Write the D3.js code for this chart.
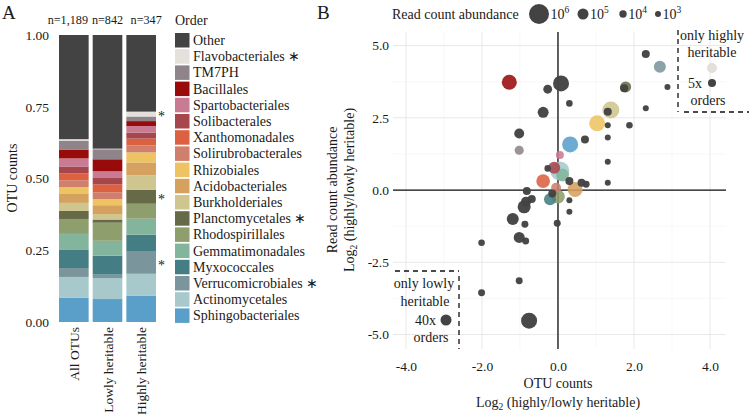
<!DOCTYPE html>
<html><head><meta charset="utf-8">
<script src="https://cdn.jsdelivr.net/npm/d3@7"></script>
<style>
body{margin:0;background:#fff}
svg{display:block}
text{font-family:"Liberation Serif","Times New Roman",serif;fill:#1a1a1a}
</style>
</head><body><svg id="c" width="749" height="420"></svg>
<script>
// ---------- Panel A data ----------
const groups = ["All OTUs", "Lowly heritable", "Highly heritable"];
const groupN = ["n=1,189", "n=842", "n=347"];
const orders = ["Other","Flavobacteriales","TM7PH","Bacillales","Spartobacteriales","Solibacterales",
  "Xanthomonadales","Solirubrobacterales","Rhizobiales","Acidobacteriales","Burkholderiales",
  "Planctomycetales","Rhodospirillales","Gemmatimonadales","Myxococcales","Verrucomicrobiales",
  "Actinomycetales","Sphingobacteriales"];
const orderColors = ["#434343","#e4e0db","#8e8489","#990b0b","#c97b93","#a6464d",
  "#dc6141","#d07f6c","#eec462","#d5a15f","#cfc58e",
  "#666a47","#8e9e6d","#83b59c","#447e84","#7b959d",
  "#a7c9cc","#5a9fca"];
const starred = ["Flavobacteriales","Planctomycetales","Verrucomicrobiales"];
const allOTUs  = [0.363,0.005,0.031,0.031,0.028,0.024,0.024,0.024,0.024,0.031,0.028,0.028,0.052,0.056,0.063,0.031,0.073,0.084];
const lowlyHer = [0.396,0.002,0.035,0.042,0.021,0.024,0.028,0.024,0.021,0.031,0.019,0.011,0.063,0.052,0.066,0.012,0.073,0.080];
const highlyHer= [0.267,0.017,0.016,0.017,0.023,0.021,0.024,0.024,0.035,0.045,0.050,0.049,0.052,0.056,0.059,0.077,0.077,0.091];
const yTicksA = [0, 0.25, 0.5, 0.75, 1];
const yTickLabelsA = ["0.00","0.25","0.50","0.75","1.00"];

// ---------- Panel B data ----------
const pointOrder = ["Bacillales","Other","Other","Other","Other","Other","TM7PH","Sphingobacteriales",
  "Spartobacteriales","Other","Solibacterales","Actinomycetales","Gemmatimonadales","Other","Xanthomonadales",
  "Acidobacteriales","Solirubrobacterales","Other","Myxococcales","Rhodospirillales","Other","Other",
  "Other","Other","Other","Other","Other","Other","Other","Other","Other","Other",
  "Other","Verrucomicrobiales","Planctomycetales","Other","Other","Burkholderiales","Other","Other",
  "Rhizobiales","Other","Other","Other","Other","Other","Other","Other","Other",
  "Other","Other","Other"];
const pointX = [-1.28,0.08,-0.27,0.30,-0.39,-1.02,-1.02,0.32,
  0.05,-0.27,-0.10,0.05,0.12,0.30,-0.39,
  0.45,-0.05,-0.15,-0.21,0.0,0.30,0.30,
  -0.82,-0.84,-0.69,-0.89,-1.19,-0.87,-0.02,-1.02,-0.85,-2.01,
  2.31,2.68,1.78,1.74,2.88,1.39,1.31,2.31,
  1.03,1.31,1.88,0.71,1.31,1.31,0.62,0.74,1.31,
  -1.02,-2.01,-0.76];
const pointY = [3.73,3.69,3.49,3.00,2.69,1.96,1.38,1.58,
  1.21,0.75,0.77,0.66,0.52,0.31,0.31,
  0.02,0.08,-0.12,-0.32,-0.23,-0.35,-0.75,
  -0.03,-0.40,-0.31,-0.58,-1.00,-1.18,-1.15,-1.64,-1.76,-1.82,
  4.71,4.27,3.57,3.52,3.57,2.77,2.71,2.83,
  2.31,2.24,2.24,1.75,1.82,0.98,0.25,0.20,0.25,
  -3.14,-3.55,-4.52];
const pointReads = [2.8e5,3.6e5,2.5e4,2.5e3,1e5,5e4,3e4,3.6e5,
  1.5e4,2.5e3,1.3e5,7.8e5,1.6e5,1.5e4,2e5,
  2.8e5,5e4,1.5e4,1.3e5,2e5,1e3,1e3,
  1.5e4,5e4,1.5e4,1.7e5,1.3e5,5e3,5e3,1e5,5e3,2.5e3,
  1.5e4,1.3e5,1e5,1.5e4,1e3,4.7e5,1.5e4,1e3,
  3.6e5,1e3,2.5e3,1.5e4,1e3,1e3,1.5e4,5e3,1e3,
  5e3,5e3,3.6e5];
const sizeBreaks = [1e6, 1e5, 1e4, 1e3];
const sizeBreakExp = ["6","5","4","3"];
const xTicksB = [-4, -2, 0, 2, 4];
const yTicksB = [-5, -2.5, 0, 2.5, 5];

const svg = d3.select("#c");
svg.append("rect").attr("width",749).attr("height",420).attr("fill","#fff");
const color = d3.scaleOrdinal().domain(orders).range(orderColors);
const fmt = (f) => (v) => d3.format(f)(v).replace("\u2212","-");

// ================= Panel A =================
svg.append("text").attr("x",2).attr("y",19).attr("font-size",19).text("A");
const xA = d3.scaleBand().domain(groups).range([57,158]).paddingInner(0.12).paddingOuter(0.06);
const yA = d3.scaleLinear().domain([0,1]).range([322,35]);
const rows = groups.map((g,i)=>{
  const vals=[allOTUs,lowlyHer,highlyHer][i];
  const r={group:g}; orders.forEach((o,j)=>r[o]=vals[j]); return r;
});
const stack = d3.stack().keys(orders.slice().reverse())(rows);
const gA = svg.append("g");
stack.forEach(layer=>{
  gA.selectAll(null).data(layer).enter().append("rect")
    .attr("x",d=>xA(d.data.group)).attr("width",xA.bandwidth())
    .attr("y",d=>yA(d[1])).attr("height",d=>Math.max(0,yA(d[0])-yA(d[1])))
    .attr("fill",color(layer.key));
});
// asterisks beside highly heritable bar
stack.filter(l=>starred.includes(l.key)).forEach(layer=>{
  const d=layer[2];
  gA.append("text").attr("x",xA(groups[2])+xA.bandwidth()+2)
    .attr("y",yA((d[0]+d[1])/2)+7).attr("font-size",14).text("*");
});
// y axis A
const axA = d3.axisLeft(yA).tickValues(yTicksA).tickFormat((d,i)=>yTickLabelsA[i]).tickSize(0).tickPadding(8);
const gAx = svg.append("g").attr("transform","translate(57,0)").call(axA);
gAx.select(".domain").remove();
gAx.selectAll("text").attr("font-size",13.5).attr("font-family","Liberation Serif").attr("fill","#1a1a1a");
// x labels rotated
groups.forEach(g=>{
  svg.append("text").attr("transform",`translate(${xA(g)+xA.bandwidth()/2+5},327) rotate(-90)`)
    .attr("text-anchor","end").attr("font-size",13.5).text(g);
});
// n labels
const nOffset = [-6, 0, 5];
groups.forEach((g,i)=>{
  svg.append("text").attr("x",xA(g)+xA.bandwidth()/2 + nOffset[i]).attr("y",24)
    .attr("text-anchor","middle").attr("font-size",12.2).text(groupN[i]);
});
svg.append("text").attr("transform","translate(17,178) rotate(-90)").attr("text-anchor","middle")
  .attr("font-size",14).text("OTU counts");
// legend A
svg.append("text").attr("x",175).attr("y",25).attr("font-size",14).text("Order");
const leg = svg.append("g");
orders.forEach((o,i)=>{
  const y0 = 33 + i*16.2;
  leg.append("rect").attr("x",175).attr("y",y0).attr("width",14.5).attr("height",14.5).attr("fill",color(o));
  leg.append("text").attr("x",193).attr("y",y0+12).attr("font-size",14)
    .text(o + (starred.includes(o)?" \u2217":""));
});

// ================= Panel B =================
svg.append("text").attr("x",317).attr("y",19).attr("font-size",19).text("B");
const xB = d3.scaleLinear().domain([-4.34,4.42]).range([393,726]);
const yB = d3.scaleLinear().domain([-5.5,5.47]).range([349,32]);
const rScale = d3.scaleLinear().domain([3,4,5,6]).range([3,3.7,5.5,10]);
const rOf = v => rScale(Math.log10(v));
const gB = svg.append("g");
// grid
d3.range(-4,5,1).forEach(v=>{
  gB.append("line").attr("x1",xB(v)).attr("x2",xB(v)).attr("y1",yB.range()[1]).attr("y2",yB.range()[0])
    .attr("stroke", v%2===0?"#e8e8e8":"#f3f3f3").attr("stroke-width", v%2===0?1:0.7);
});
d3.range(-5,5.01,1.25).forEach(v=>{
  const major = Math.abs(v/2.5 - Math.round(v/2.5))<1e-6;
  gB.append("line").attr("y1",yB(v)).attr("y2",yB(v)).attr("x1",xB.range()[0]).attr("x2",xB.range()[1])
    .attr("stroke", major?"#e8e8e8":"#f3f3f3").attr("stroke-width", major?1:0.7);
});
// zero lines
gB.append("line").attr("x1",xB(0)).attr("x2",xB(0)).attr("y1",yB.range()[1]).attr("y2",yB.range()[0])
  .attr("stroke","#111").attr("stroke-width",1.3);
gB.append("line").attr("y1",yB(0)).attr("y2",yB(0)).attr("x1",xB.range()[0]).attr("x2",xB.range()[1])
  .attr("stroke","#111").attr("stroke-width",1.3);
// points
const pts = pointX.map((x,i)=>({x, y:pointY[i], o:pointOrder[i], r:pointReads[i]}))
  .sort((a,b)=>b.r-a.r);
gB.selectAll("circle.p").data(pts).enter().append("circle")
  .attr("cx",d=>xB(d.x)).attr("cy",d=>yB(d.y)).attr("r",d=>rOf(d.r))
  .attr("fill",d=>color(d.o)).attr("fill-opacity",d=>d.o==="Other"?0.97:0.88);
// axes B
const axBx = d3.axisBottom(xB).tickValues(xTicksB).tickFormat(fmt(".1f")).tickSize(0).tickPadding(8);
const gBx = svg.append("g").attr("transform","translate(0,353)").call(axBx);
gBx.select(".domain").remove();
gBx.selectAll("text").attr("font-size",13.5).attr("font-family","Liberation Serif").attr("fill","#1a1a1a");
const axBy = d3.axisLeft(yB).tickValues(yTicksB).tickFormat(fmt(".1f")).tickSize(0).tickPadding(4);
const gBy = svg.append("g").attr("transform","translate(393,0)").call(axBy);
gBy.select(".domain").remove();
gBy.selectAll("text").attr("font-size",13.5).attr("font-family","Liberation Serif").attr("fill","#1a1a1a");
// axis titles B
function log2Label(sel){
  sel.append("tspan").text("Log");
  sel.append("tspan").attr("font-size",9.5).attr("dy",3).text("2");
  sel.append("tspan").attr("dy",-3).text(" (highly/lowly heritable)");
}
svg.append("text").attr("x",558).attr("y",388).attr("text-anchor","middle").attr("font-size",14).text("OTU counts");
log2Label(svg.append("text").attr("x",558).attr("y",407).attr("text-anchor","middle").attr("font-size",14));
svg.append("text").attr("transform","translate(337,190) rotate(-90)").attr("text-anchor","middle")
  .attr("font-size",14).text("Read count abundance");
log2Label(svg.append("text").attr("transform","translate(354,190) rotate(-90)").attr("text-anchor","middle").attr("font-size",14));

// size legend
svg.append("text").attr("x",392).attr("y",19).attr("font-size",14).text("Read count abundance");
const legX = [539, 583, 623, 658];
sizeBreaks.forEach((b,i)=>{
  svg.append("circle").attr("cx",legX[i]).attr("cy",14).attr("r",rOf(b)).attr("fill","#434343");
  const t = svg.append("text").attr("x",legX[i]+rOf(b)+1.5).attr("y",19).attr("font-size",14);
  t.append("tspan").text("10");
  t.append("tspan").attr("font-size",9.5).attr("dy",-6).text(sizeBreakExp[i]);
});

// annotation boxes
const dash = "5,4";
svg.append("line").attr("x1",678).attr("x2",678).attr("y1",30).attr("y2",112).attr("stroke","#111").attr("stroke-width",1.3).attr("stroke-dasharray",dash);
svg.append("line").attr("x1",684).attr("x2",749).attr("y1",112).attr("y2",112).attr("stroke","#111").attr("stroke-width",1.3).attr("stroke-dasharray",dash);
svg.append("text").attr("x",712).attr("y",40).attr("text-anchor","middle").attr("font-size",14).text("only highly");
svg.append("text").attr("x",712).attr("y",57).attr("text-anchor","middle").attr("font-size",14).text("heritable");
svg.append("circle").attr("cx",712).attr("cy",68).attr("r",4.5).attr("fill",color("Flavobacteriales")).attr("stroke","#cfcac4").attr("stroke-width",0.5);
svg.append("text").attr("x",702).attr("y",88).attr("text-anchor","end").attr("font-size",14).text("5x");
svg.append("circle").attr("cx",712).attr("cy",83).attr("r",4).attr("fill","#434343");
svg.append("text").attr("x",708).attr("y",105).attr("text-anchor","middle").attr("font-size",14).text("orders");

svg.append("line").attr("x1",395).attr("x2",459).attr("y1",271).attr("y2",271).attr("stroke","#111").attr("stroke-width",1.3).attr("stroke-dasharray",dash);
svg.append("line").attr("x1",459).attr("x2",459).attr("y1",276).attr("y2",349).attr("stroke","#111").attr("stroke-width",1.3).attr("stroke-dasharray",dash);
svg.append("text").attr("x",424).attr("y",288).attr("text-anchor","middle").attr("font-size",14).text("only lowly");
svg.append("text").attr("x",425).attr("y",306).attr("text-anchor","middle").attr("font-size",14).text("heritable");
svg.append("text").attr("x",436).attr("y",325).attr("text-anchor","end").attr("font-size",14).text("40x");
svg.append("circle").attr("cx",446).attr("cy",320).attr("r",5.5).attr("fill","#434343");
svg.append("text").attr("x",431).attr("y",342).attr("text-anchor","middle").attr("font-size",14).text("orders");
</script></body></html>
